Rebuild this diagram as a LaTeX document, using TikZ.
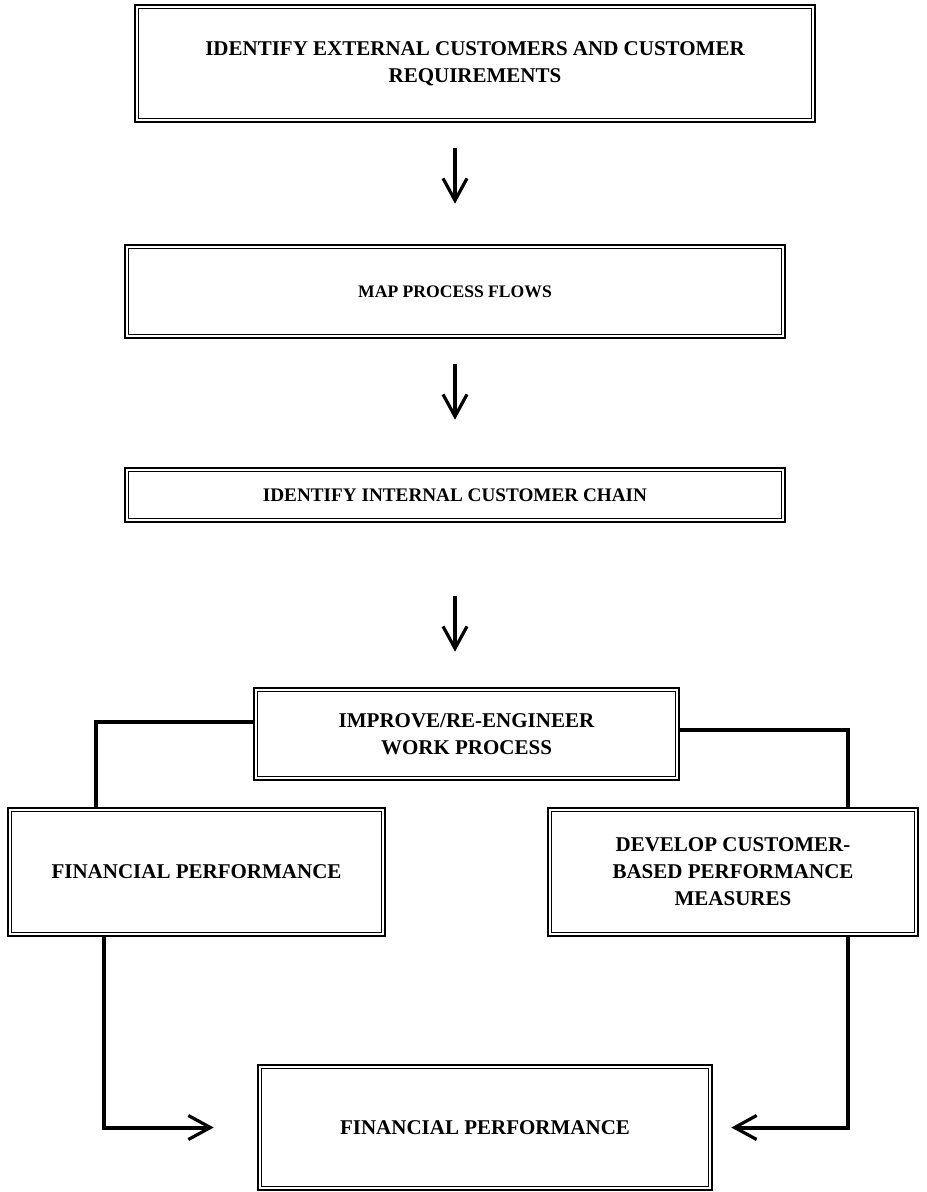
\documentclass[tikz,border=0pt]{standalone}
\usepackage{fontspec}
\setmainfont{Liberation Serif}
\usetikzlibrary{arrows.meta,positioning}

\tikzset{
  stepbox/.style={draw, line width=1.3pt, align=center, inner sep=0pt,
    font=\bfseries\fontsize{10.5}{13.5}\selectfont},
  link/.style={line width=2pt},
  flow/.style={line width=2pt, -{Straight Barb[length=11pt,width=12pt,line width=1.6pt]}},
}

\begin{document}
\begin{tikzpicture}[x=0.5pt,y=-0.5pt]
  \useasboundingbox (0,0) rectangle (926,1192);

  % main chain
  \node[stepbox, minimum width=340pt, minimum height=58.5pt] (ext) at (475,63.5)
    {IDENTIFY EXTERNAL CUSTOMERS AND CUSTOMER\\REQUIREMENTS};
  \node[stepbox, minimum width=330pt, minimum height=46.5pt,
    font=\bfseries\fontsize{8.8}{11}\selectfont] (map) at (455,291.5)
    {MAP PROCESS FLOWS};
  \node[stepbox, minimum width=330pt, minimum height=27pt,
    font=\bfseries\fontsize{9.6}{12}\selectfont] (chain) at (455,495)
    {IDENTIFY INTERNAL CUSTOMER CHAIN};
  \node[stepbox, minimum width=212.5pt, minimum height=46pt] (improve) at (466.5,734)
    {IMPROVE/RE-ENGINEER\\WORK PROCESS};

  % the two branches
  \node[stepbox, minimum width=188.5pt, minimum height=64pt] (finl) at (196.5,872)
    {FINANCIAL PERFORMANCE};
  \node[stepbox, minimum width=185pt, minimum height=64pt] (measures) at (733,872)
    {DEVELOP CUSTOMER-\\BASED PERFORMANCE\\MEASURES};
  \node[stepbox, minimum width=227pt, minimum height=62.5pt] (finr) at (485,1127.5)
    {FINANCIAL PERFORMANCE};

  % inner frames
  \foreach \b in {ext,map,chain,improve,finl,measures,finr}
    \draw[line width=0.6pt] ([shift={(2.3pt,-2.3pt)}]\b.north west)
      rectangle ([shift={(-2.3pt,2.3pt)}]\b.south east);

  % arrows down
  \draw[flow] ([yshift=-12.5pt]ext.south -| map.north) -- ([yshift=20pt]map.north);
  \draw[flow] ([yshift=-12.5pt]map.south) -- ([yshift=23.5pt]chain.north);
  \draw[flow] ([yshift=-36.5pt]chain.south) -- ([yshift=17.5pt]improve.north -| chain.south);

  % branches
  \draw[link] ([yshift=6pt]improve.west) -| ([xshift=44.5pt]finl.north west);
  \draw[link] ([yshift=2pt]improve.east) -| ([xshift=-35.5pt]measures.north east);
  \draw[flow] ([xshift=48.5pt]finl.south west) |- ([xshift=-21.5pt]finr.west);
  \draw[flow] ([xshift=-35.5pt]measures.south east) |- ([xshift=9pt]finr.east);
\end{tikzpicture}
\end{document}
